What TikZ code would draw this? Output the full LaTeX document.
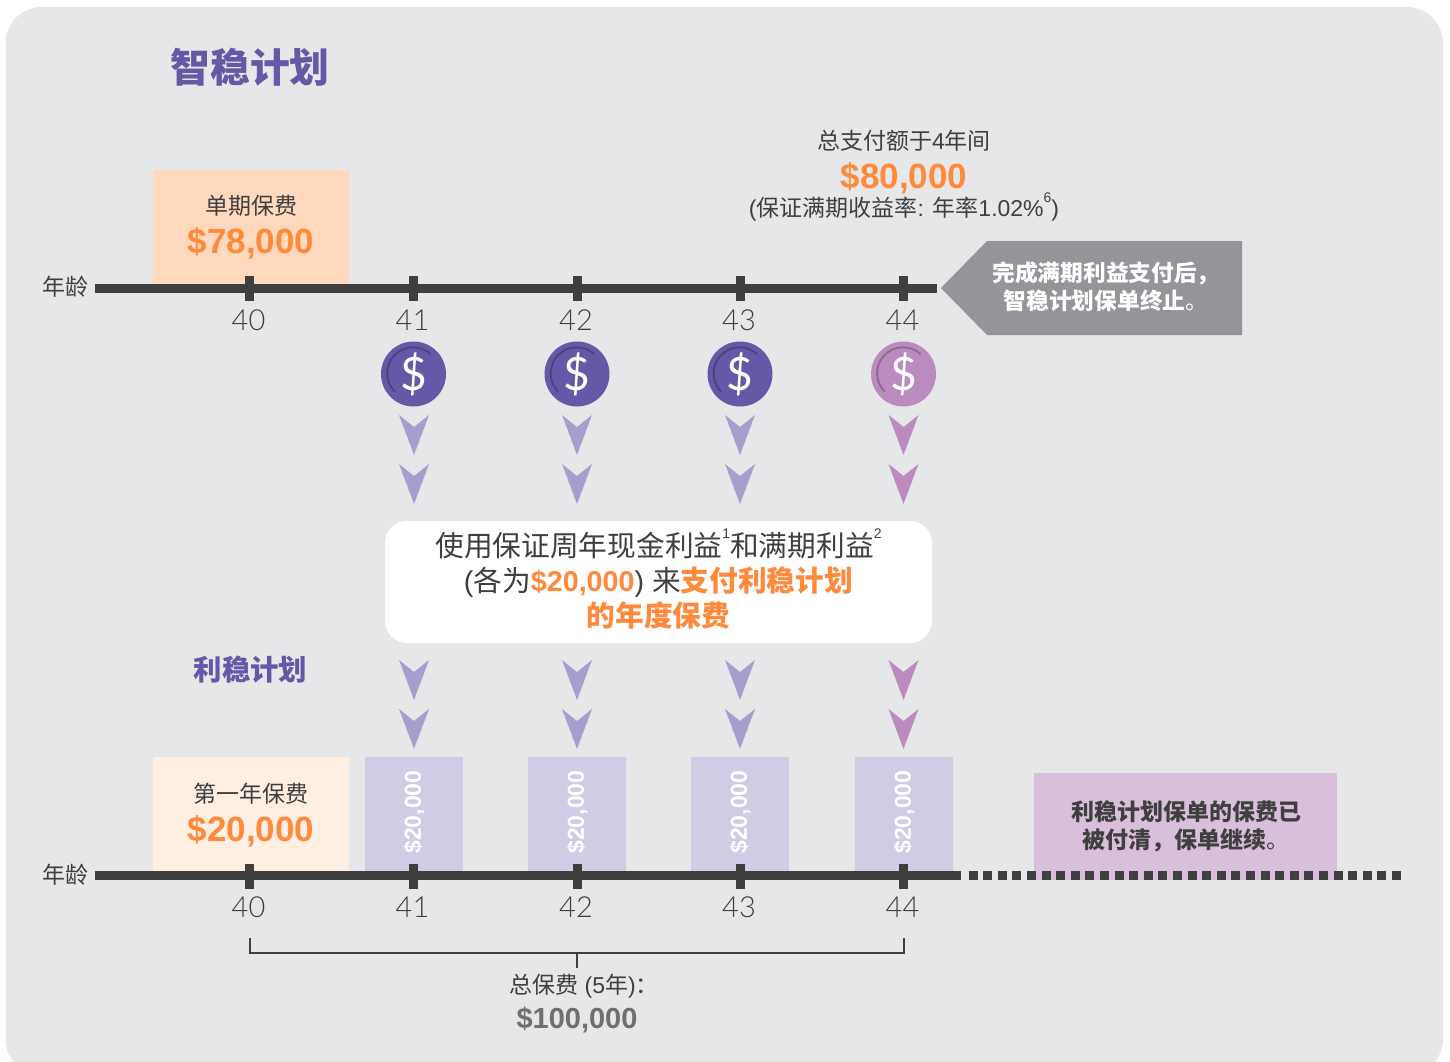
\documentclass[tikz,border=0pt]{standalone}
\usepackage{fontspec}
\setmainfont{Liberation Sans}
\newfontfamily\cjk{Noto Sans CJK SC}
\newfontfamily\thin{Lato Light}
\newfontfamily\coinfont{Lato}
\usetikzlibrary{positioning,calc}
\definecolor{panelgrey}{HTML}{E6E7E9}
\definecolor{axisdark}{HTML}{3F3F40}
\definecolor{planviolet}{HTML}{6459A6}
\definecolor{arrowviolet}{HTML}{A69FCE}
\definecolor{planpink}{HTML}{BB8ABE}
\definecolor{payorange}{HTML}{FF8A3C}
\definecolor{peach}{HTML}{FFD9BD}
\definecolor{lightpeach}{HTML}{FFEEE2}
\definecolor{lilac}{HTML}{CFCDE5}
\definecolor{pinkbox}{HTML}{DABFDC}
\definecolor{closegrey}{HTML}{939598}
\tikzset{
  fs/.style={font=\fontsize{#1}{28}\selectfont},
  axisline/.style={draw=axisdark, line width=9pt},
  axistick/.style={fill=axisdark, minimum width=9pt, minimum height=25pt, inner sep=0pt},
  agelabel/.style={text=axisdark, font=\fontsize{29}{28}\selectfont\thin, inner sep=0pt},
  premiumbox/.style={minimum width=196pt, minimum height=114pt, inner sep=0pt},
  yearbox/.style={fill=lilac, minimum width=98pt, minimum height=114pt, inner sep=0pt},
  coin/.style={circle, fill=#1, minimum size=65pt, inner sep=0pt, text=white, font=\fontsize{46}{46}\selectfont\coinfont},
  bodytext/.style={text=axisdark, align=center, inner sep=0pt},
  sumtext/.style={text=payorange, font=\fontsize{35}{42}\selectfont\bfseries, inner sep=0pt}
}
\newcommand{\chevron}[3]{% x, top y, colour
  \fill[#3] (#1-15,#2) -- (#1,#2+12) -- (#1+15,#2) -- (#1,#2+40) -- cycle;
}
\newcommand{\notemark}[1]{\raisebox{0.6em}{\fontsize{14}{14}\selectfont\normalfont #1}}
\begin{document}
\begin{tikzpicture}[x=1pt, y=-1pt]
   \useasboundingbox (0,0) rectangle (1450,1061);
   \fill[panelgrey, rounded corners=36pt] (5.5,7) rectangle (1443,1075);

   \node (title) at (250,67) [text=planviolet, font=\fontsize{39.8}{46}\selectfont\cjk\bfseries, inner sep=0pt] {智稳计划};

   % upper time line
   \node (single) at (251,227) [premiumbox, fill=peach] {};
   \node (singletxt) at (251,206) [bodytext, fs=23] {\cjk 单期保费};
   \node (singlesum) at (251,243) [sumtext] {\$78,000};
   \node (totaltxt) at (904,141) [bodytext, fs=23] {\cjk 总支付额于\normalfont 4\cjk 年间};
   \node (totalsum) at (904,178) [sumtext] {\$80,000};
   \node (yield) at (904,207) [bodytext, fs=23] {(\cjk 保证满期收益率\normalfont: \cjk 年率\normalfont 1.02\%\notemark{6})};

   \coordinate (upstart) at (95,288);
   \coordinate (upend) at (937,288);
   \draw[axisline] (upstart) -- (upend);
   \node (upage) at (65,287) [bodytext, fs=23] {\cjk 年龄};
   \foreach \x/\age in {249.5/40,413.5/41,577/42,740/43,903.5/44} {
       \node (uptick\age) at (\x,288.5) [axistick] {};
       \node (uplabel\age) at (\x-1,320) [agelabel] {\age};
   }

   \fill[closegrey] (941,288) -- (987,241) -- (1242,241) -- (1242,335) -- (987,335) -- cycle;
   \node (closetxt) at (1106,287) [align=center, text=white, inner sep=0pt, font=\fontsize{22.7}{28}\selectfont\cjk\bfseries] {完成满期利益支付后，\\智稳计划保单终止{\mdseries 。}};

   % coins and chevrons
   \foreach \x/\age/\col in {413.5/41/planviolet,577/42/planviolet,740/43/planviolet,903.5/44/planpink} {
       \node (coin\age) at (\x,374) [coin=\col] {\$};
       \draw[\col!75!black, line width=1.8pt] ($(coin\age)+(17,-20)$) arc[start angle=48, end angle=225, radius=26pt];
   }
   \foreach \x/\col in {414/arrowviolet,577/arrowviolet,740/arrowviolet,903.5/planpink} {
       \chevron{\x}{415}{\col}
       \chevron{\x}{464}{\col}
       \chevron{\x}{660}{\col}
       \chevron{\x}{709}{\col}
   }

   \node (usebox) at (658.5,582) [fill=white, rounded corners=22pt, minimum width=547pt, minimum height=122pt, inner sep=0pt] {};
   \node (usetxt) at (658.5,579) [bodytext, font=\fontsize{28.7}{35}\selectfont] {%
       {\cjk 使用保证周年现金利益}\notemark{1}{\cjk 和满期利益}\notemark{2}\\
       ({\cjk 各为}\textcolor{payorange}{\bfseries \$20,000}) {\cjk 来}\textcolor{payorange}{\cjk\bfseries 支付利稳计划}\\
       \textcolor{payorange}{\cjk\bfseries 的年度保费}};

   \node (plan) at (250.5,670) [text=planviolet, font=\fontsize{28.4}{34}\selectfont\cjk\bfseries, inner sep=0pt] {利稳计划};

   % lower time line
   \node (first) at (251,814) [premiumbox, fill=lightpeach] {};
   \node (firsttxt) at (251,794) [bodytext, fs=23] {\cjk 第一年保费};
   \node (firstsum) at (251,831) [sumtext] {\$20,000};
   \foreach \x/\age in {414/41,577/42,740/43,904/44} {
       \node (pay\age) at (\x,814) [yearbox] {};
       \node (paytxt\age) at (\x,812) [rotate=90, text=white, font=\fontsize{23}{28}\selectfont\bfseries, inner sep=0pt] {\$20,000};
   }
   \node (paid) at (1185.5,826.5) [fill=pinkbox, minimum width=303pt, minimum height=107pt, inner sep=0pt] {};
   \node (paidtxt) at (1186,826) [align=center, text=axisdark, inner sep=0pt, font=\fontsize{23}{28}\selectfont\cjk\bfseries] {利稳计划保单的保费已\\被付清，保单继续{\mdseries 。}};

   \coordinate (lowstart) at (95,875.5);
   \coordinate (lowend) at (961,875.5);
   \coordinate (lowmore) at (1402,875.5);
   \draw[axisdark, line width=9pt, dash pattern=on 9pt off 5.6pt] (968.5,875.5) -- (lowmore);
   \draw[axisline] (lowstart) -- (lowend);
   \node (lowage) at (65,875) [bodytext, fs=23] {\cjk 年龄};
   \foreach \x/\age in {249.5/40,413.5/41,577/42,740/43,903.5/44} {
       \node (lowtick\age) at (\x,876) [axistick] {};
       \node (lowlabel\age) at (\x-1,907) [agelabel] {\age};
   }

   % bracket and total
   \coordinate (bracketl) at (250,938);
   \coordinate (bracketr) at (904,938);
   \coordinate (bracketm) at (577,953);
   \draw[axisdark, line width=1.2pt] (bracketl) |- (bracketm) -| (bracketr);
   \node (sumtxt) at (584,986.5) [bodytext, fs=23] {\cjk 总保费\normalfont{} (5\cjk 年\normalfont)\cjk ：};
   \draw[axisdark, line width=1.2pt] (bracketm) -- ($(bracketm)+(0,15)$);
   \node (sumval) at (577,1020) [text=axisdark!75, font=\fontsize{29}{35}\selectfont\bfseries, inner sep=0pt] {\$100,000};
\end{tikzpicture}
\end{document}
